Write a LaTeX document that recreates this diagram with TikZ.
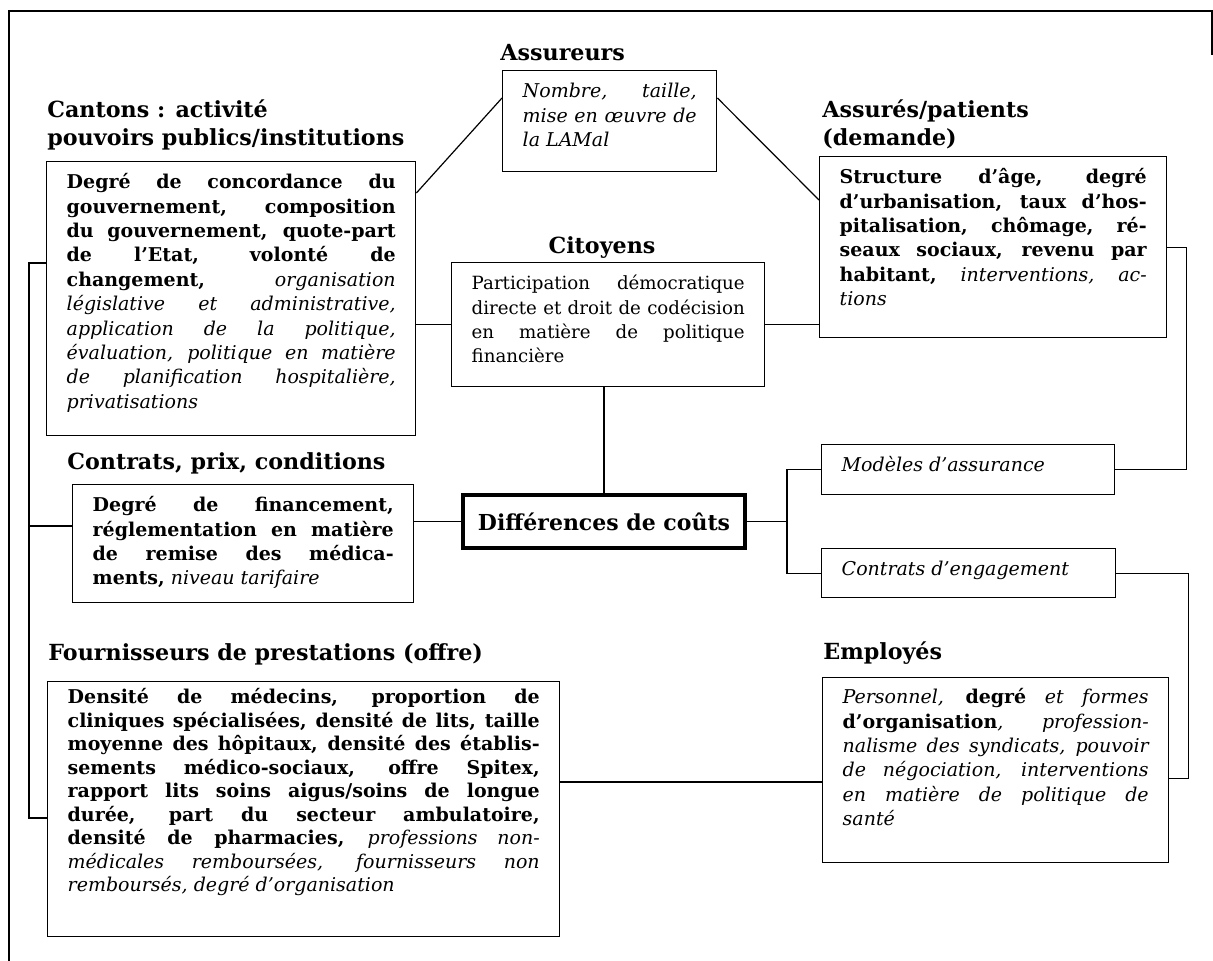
\documentclass[tikz,border=0pt]{standalone}
\usepackage{fontspec}
\setmainfont{DejaVu Serif}
\usepackage{tikz}
\usetikzlibrary{positioning}
\tolerance=10000
\hbadness=10000
\hyphenpenalty=10000
\exhyphenpenalty=10000
\newcommand{\boxfont}{\fontsize{9.5}{12.2}\selectfont}
\newcommand{\headfont}{\fontsize{11.1}{14}\selectfont\bfseries}

\begin{document}
\begin{tikzpicture}[
    x=0.5pt, y=-0.5pt,
    box/.style={draw, line width=0.7pt, anchor=north west, inner xsep=10pt, inner ysep=5pt, text height=8.5pt, align=justify, font=\boxfont},
    head/.style={anchor=north west, inner sep=0pt, align=left, font=\headfont},
    link/.style={line width=0.6pt},
]
    \useasboundingbox (0,0) rectangle (1213,961);
    \draw[line width=0.8pt] (1212,55) |- (9,11) -- (9,961);

    \node[head] (tcantons) at (47,99) {Cantons : activité\\pouvoirs publics/institutions};
    \node[head] (tassureurs) at (500,44) {Assureurs};
    \node[head, anchor=north] (tcitoyens) at (602,236) {Citoyens};
    \node[head] (tassures) at (822,99) {Assurés/patients\\(demande)};
    \node[head] (tcontrats) at (67,452) {Contrats, prix, conditions};
    \node[head] (tfourn) at (48,643) {Fournisseurs de prestations (offre)};
    \node[head] (temployes) at (823,641) {Employés};

    \node[box, text width=164.5pt, text depth=118.5pt] (cantons) at (46,161) {\textbf{Degré de concordance du\linebreak gouvernement, composition\linebreak du gouvernement, quote-part\linebreak de l’Etat, volonté de\linebreak changement,} \textit{organisation\linebreak législative et administrative,\linebreak application de la politique,\linebreak évaluation, politique en matière\linebreak de planification hospitalière,\linebreak privatisations}};
    \node[box, text width=87pt, text depth=32pt, font=\boxfont\itshape] (assureurs) at (502,70) {Nombre, taille,\linebreak mise en œuvre de\linebreak la LAMal};
    \node[box, text width=153.5pt, text depth=72pt] (assures) at (819,156) {\textbf{Structure d’âge, degré\linebreak d’urbanisation, taux d’hos-\linebreak pitalisation, chômage, ré-\linebreak seaux sociaux, revenu par\linebreak habitant,} \textit{interventions, ac-\linebreak tions}};
    \node[box, text width=136.5pt, text depth=43.5pt, font=\fontsize{9.1}{12.2}\selectfont] (citoyens) at (451,262) {Participation démocratique\linebreak directe et droit de codécision\linebreak en matière de politique\linebreak financière};
    \node[box, text width=150.5pt, text depth=40.5pt] (contrats) at (72,484) {\textbf{Degré de financement,\linebreak réglementation en matière\linebreak de remise des médica-\linebreak ments,} \textit{niveau tarifaire}};
    \node[draw, line width=2pt, minimum width=141pt, minimum height=26.5pt, font=\fontsize{11}{13}\selectfont\bfseries] (couts) at (604,521.5) {Différences de coûts};
    \node[box, text width=126.5pt, text depth=6.5pt, font=\boxfont\itshape] (modeles) at (821,444) {Modèles d’assurance};
    \node[box, text width=127pt, text depth=6pt, font=\boxfont\itshape] (engagement) at (821,548) {Contrats d’engagement};
    \node[box, text width=153pt, text height=8pt, text depth=74.5pt, font=\boxfont\itshape] (employes) at (822,677) {Personnel, \textbf{\upshape degré} et formes\linebreak \textbf{\upshape d’organisation}, profession-\linebreak nalisme des syndicats, pouvoir\linebreak de négociation, interventions\linebreak en matière de politique de\linebreak santé};
    \node[box, text width=236pt, text height=6pt, text depth=111.5pt, font=\fontsize{9.5}{11.75}\selectfont] (fourn) at (47,681) {\textbf{Densité de médecins, proportion de\linebreak cliniques spécialisées, densité de lits, taille\linebreak moyenne des hôpitaux, densité des établis-\linebreak sements médico-sociaux, offre Spitex,\linebreak rapport lits soins aigus/soins de longue\linebreak durée, part du secteur ambulatoire,\linebreak densité de pharmacies,} \textit{professions non-\linebreak médicales remboursées, fournisseurs non\linebreak remboursés, degré d’organisation}};

    \draw[link] ([yshift=-16pt]cantons.north east) -- ([yshift=-14pt]assureurs.north west);
    \draw[link] ([yshift=-14pt]assureurs.north east) -- ([yshift=-22pt]assures.north west);
    \draw[link] (citoyens.west) -- (citoyens.west -| cantons.east);
    \draw[link] (citoyens.east) -- (citoyens.east -| assures.west);
    \draw[link] (couts.north) -- (couts.north |- citoyens.south);
    \draw[link] (couts.west) -- (couts.west -| contrats.east);
    \coordinate[right=20pt of couts.east] (rbus);
    \draw[link] (couts.east) -- (rbus);
    \draw[link] (modeles.west) -| (rbus) |- (engagement.west);
    \draw[link] (modeles.east) -- ++(35.5pt,0) |- (assures.east);
    \draw[link] (engagement.east) -- ++(36pt,0) |- ([yshift=-4pt]employes.east);
    \coordinate (fr) at ([yshift=-50.5pt]fourn.north east);
    \draw[link] (fr) -- (fr -| employes.west);
    \coordinate (lt) at ([yshift=-51pt]cantons.north west);
    \coordinate (lm) at ([yshift=-21pt]contrats.north west);
    \coordinate (lb) at ([yshift=-68.5pt]fourn.north west);
    \coordinate[left=8.5pt of lt] (lbus);
    \draw[link] (lt) -- (lbus) |- (lb);
    \draw[link] (lm) -- (lm -| lbus);
\end{tikzpicture}
\end{document}
